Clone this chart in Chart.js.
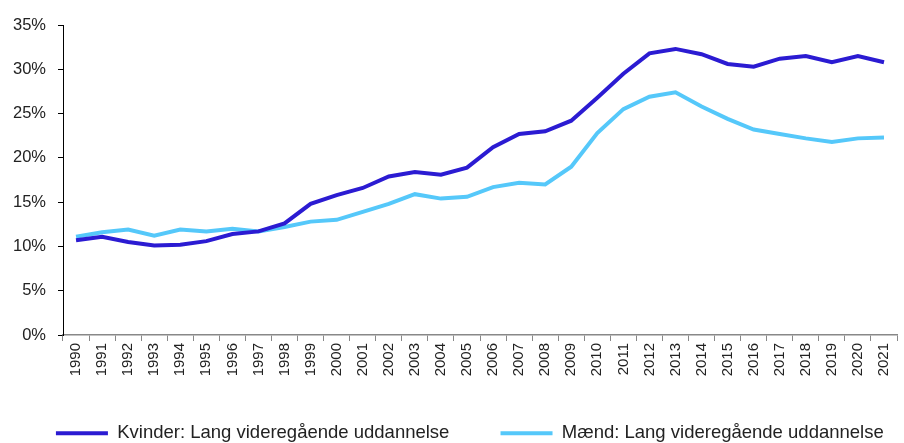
<!DOCTYPE html>
<html>
<head>
<meta charset="utf-8">
<script src="https://cdn.jsdelivr.net/npm/chart.js@4"></script>
<style>
  html, body { margin: 0; padding: 0; background: #fff; }
  #wrap { width: 904px; height: 443px; }
</style>
</head>
<body>
<div id="wrap"><canvas id="lineChart" width="904" height="443"></canvas></div>
<script>
var years = ['1990', '1991', '1992', '1993', '1994', '1995', '1996', '1997', '1998', '1999',
             '2000', '2001', '2002', '2003', '2004', '2005', '2006', '2007', '2008', '2009',
             '2010', '2011', '2012', '2013', '2014', '2015', '2016', '2017', '2018', '2019',
             '2020', '2021'];

var kvinder = [10.7, 11.1, 10.5, 10.1, 10.2, 10.6, 11.4, 11.7, 12.6, 14.8,
               15.8, 16.6, 17.9, 18.4, 18.1, 18.9, 21.2, 22.7, 23.0, 24.2,
               26.8, 29.5, 31.8, 32.3, 31.7, 30.6, 30.3, 31.2, 31.5, 30.8,
               31.5, 30.8];

var maend = [11.1, 11.6, 11.9, 11.2, 11.9, 11.7, 12.0, 11.7, 12.2, 12.8,
             13.0, 13.9, 14.8, 15.9, 15.4, 15.6, 16.7, 17.2, 17.0, 19.0,
             22.8, 25.5, 26.9, 27.4, 25.8, 24.4, 23.2, 22.7, 22.2, 21.8,
             22.2, 22.3];

var seriesNames = ['Kvinder: Lang videregående uddannelse', 'Mænd: Lang videregående uddannelse'];
var seriesColors = ['#2B1BD2', '#55C8FA'];

window.onload = function() {
    var ctx = document.getElementById('lineChart').getContext('2d');
    var fontFamily = "'Liberation Sans', Arial, sans-serif";

    new Chart(ctx, {
        type: 'line',
        data: {
            labels: years,
            datasets: [{
                label: seriesNames[0],
                data: kvinder,
                borderColor: seriesColors[0],
                backgroundColor: seriesColors[0],
                borderWidth: 4,
                pointRadius: 0,
                tension: 0
            }, {
                label: seriesNames[1],
                data: maend,
                borderColor: seriesColors[1],
                backgroundColor: seriesColors[1],
                borderWidth: 4,
                pointRadius: 0,
                tension: 0
            }]
        },
        options: {
            responsive: false,
            animation: false,
            layout: { padding: { top: 25, right: 0, left: 0, bottom: 0 } },
            plugins: {
                tooltip: { enabled: false },
                legend: {
                    position: 'bottom',
                    align: 'end',
                    maxHeight: 29,
                    labels: {
                        boxWidth: 52,
                        boxHeight: 4,
                        padding: 10,
                        color: '#222',
                        font: { family: fontFamily, size: 18.5 },
                        generateLabels: function(chart) {
                            var items = Chart.defaults.plugins.legend.labels.generateLabels(chart);
                            items.forEach(function(it, i) {
                                it.lineWidth = 0;
                                it.fillStyle = it.strokeStyle;
                                // wider gap after the first entry, small margin after the last
                                it.text = it.text + (i === 0 ? '        ' : '  ');
                            });
                            return items;
                        }
                    }
                }
            },
            scales: {
                x: {
                    offset: true,
                    grid: {
                        offset: true,
                        drawOnChartArea: false,
                        drawTicks: true,
                        tickLength: 6,
                        color: '#888'
                    },
                    border: { color: '#888', width: 1.5 },
                    ticks: {
                        minRotation: 90,
                        maxRotation: 90,
                        autoSkip: false,
                        padding: 2,
                        color: '#222',
                        font: { family: fontFamily, size: 15 }
                    },
                    afterFit: function(scale) { scale.height = 79; }
                },
                y: {
                    min: 0,
                    max: 35,
                    grid: {
                        drawOnChartArea: false,
                        drawTicks: true,
                        tickLength: 5,
                        color: '#000'
                    },
                    border: { color: '#000', width: 1 },
                    ticks: {
                        stepSize: 5,
                        padding: 12,
                        color: '#222',
                        font: { family: fontFamily, size: 16.5 },
                        callback: function(v) { return v + '%'; }
                    },
                    afterFit: function(scale) { scale.width = 63; }
                }
            }
        }
    });
};
</script>
</body>
</html>
